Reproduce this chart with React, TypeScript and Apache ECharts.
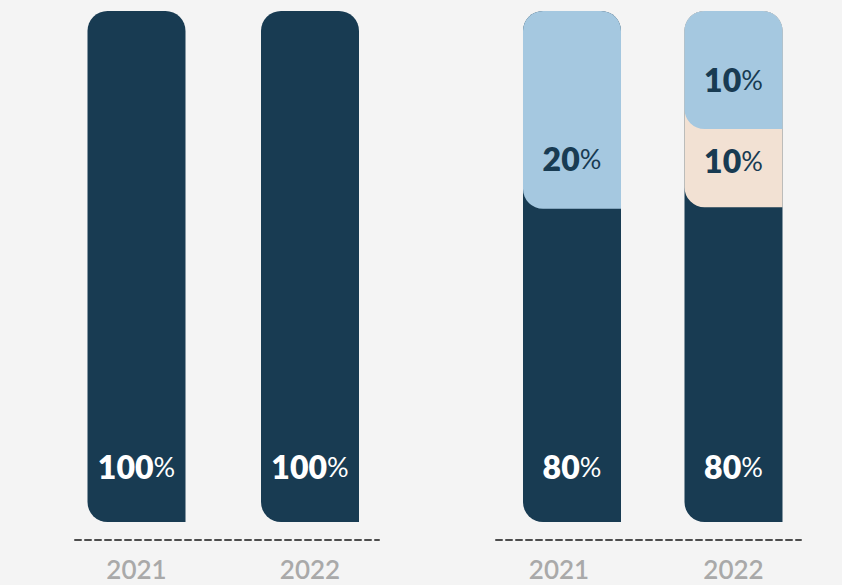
import React, { useEffect, useRef } from "react";
import * as echarts from "echarts";

// Categories (years)
const years = ["2021", "2022"];

// Left panel: one segment per bar (share of bar height as drawn)
const leftDark = [100, 100];
const leftDarkLabel = ["100", "100"];

// Right panel: segment heights as drawn in the picture (share of bar height)
const rightDark = [61.3, 61.6];
const rightBeige = [0, 15.3];
const rightLight = [38.7, 23.1];
// Labels printed on the segments
const rightDarkLabel = ["80", "80"];
const rightBeigeLabel = ["", "10"];
const rightLightLabel = ["20", "10"];

const DARK = "#183b52";
const LIGHT = "#a5c8e0";
const BEIGE = "#f2e1d3";
const BG = "#f4f4f4";
const FONT = "Lato, 'Open Sans', sans-serif";

type Seg = { values: number[]; labels: string[]; color: string; text: string };

function buildSeries(gridIndex: number, segs: Seg[]) {
  const totals = years.map((_, i) => segs.reduce((s, g) => s + g.values[i], 0));
  const cum = years.map(() => 0);
  return segs.map((seg, si) => {
    const data: any[] = [];
    years.forEach((_, i) => {
      const lo = cum[i];
      const hi = lo + seg.values[i];
      cum[i] = hi;
      if (seg.values[i] > 0) data.push([i, lo, totals[i], hi, seg.labels[i], si === 0 ? 1 : 0]);
    });
    return {
      type: "custom",
      xAxisIndex: gridIndex,
      yAxisIndex: gridIndex,
      data,
      renderItem: (params: any, api: any) => {
        const x = api.value(0);
        const lo = api.value(1);
        const top = api.value(2);
        const hi = api.value(3);
        const isBottom = api.value(5) === 1;
        const label = data[params.dataIndex][4];
        const pB = api.coord([x, lo]);
        const pT = api.coord([x, top]);
        const pH = api.coord([x, hi]);
        const w = 98;
        const visH = pB[1] - pH[1];
        const ly = isBottom ? pB[1] - 56 : pB[1] - Math.min(50, 0.6 * visH);
        return {
          type: "group",
          children: [
            {
              type: "rect",
              shape: { x: pB[0] - w / 2, y: pT[1], width: w, height: pB[1] - pT[1], r: [20, 20, 0, 20] },
              style: { fill: seg.color },
            },
            {
              type: "text",
              x: pB[0],
              y: ly,
              style: {
                text: `{n|${label}}{p|%}`,
                align: "center",
                verticalAlign: "middle",
                rich: {
                  n: { fontFamily: FONT, fontWeight: 800, fontSize: 32, fill: seg.text },
                  p: { fontFamily: FONT, fontWeight: 400, fontSize: 27, fill: seg.text },
                },
              },
            },
          ],
        };
      },
    };
  });
}

export default function App() {
  const ref = useRef<HTMLDivElement>(null);
  useEffect(() => {
    if (!ref.current) return;
    const chart = echarts.init(ref.current, undefined, { renderer: "svg" });
    const axisLabelBase = {
      color: "#a9a9a9",
      fontFamily: FONT,
      fontSize: 26,
      fontWeight: 600,
      margin: 16,
    };
    const xAxisCommon = {
      type: "value",
      position: "bottom",
      offset: 18,
      splitLine: { show: false },
      axisTick: { show: false },
      axisLine: { show: true, onZero: false, lineStyle: { color: "#4d4d4d", width: 2, type: [6, 4] } },
    };
    chart.setOption({
      animation: false,
      backgroundColor: BG,
      grid: [
        { left: 75, right: 463, top: 11, bottom: 63 },
        { left: 496, right: 41, top: 11, bottom: 63 },
      ],
      xAxis: [
        {
          ...xAxisCommon,
          gridIndex: 0,
          min: -0.3545,
          max: 1.3977,
          axisLabel: {
            ...axisLabelBase,
            customValues: [0, 1],
            formatter: (v: number) => years[Math.round(v)],
          },
        },
        {
          ...xAxisCommon,
          gridIndex: 1,
          min: -0.4706,
          max: 1.418,
          axisLabel: {
            ...axisLabelBase,
            customValues: [0, 1],
            formatter: (v: number) => (Math.round(v) === 0 ? `{s|${years[0]}}` : `{t|${years[1]}}`),
            rich: {
              s: { ...axisLabelBase, margin: undefined, padding: [0, 26, 0, 0] },
              t: { ...axisLabelBase, margin: undefined },
            },
          },
        },
      ],
      yAxis: [
        { type: "value", gridIndex: 0, min: 0, max: 100, show: false },
        { type: "value", gridIndex: 1, min: 0, max: 100, show: false },
      ],
      series: [
        ...buildSeries(0, [{ values: leftDark, labels: leftDarkLabel, color: DARK, text: "#ffffff" }]),
        ...buildSeries(1, [
          { values: rightDark, labels: rightDarkLabel, color: DARK, text: "#ffffff" },
          { values: rightBeige, labels: rightBeigeLabel, color: BEIGE, text: DARK },
          { values: rightLight, labels: rightLightLabel, color: LIGHT, text: DARK },
        ]),
      ],
    });
    return () => chart.dispose();
  }, []);
  return (
    <div
      ref={ref}
      style={{ position: "fixed", left: 0, top: 0, width: 842, height: 585, background: BG }}
    />
  );
}
